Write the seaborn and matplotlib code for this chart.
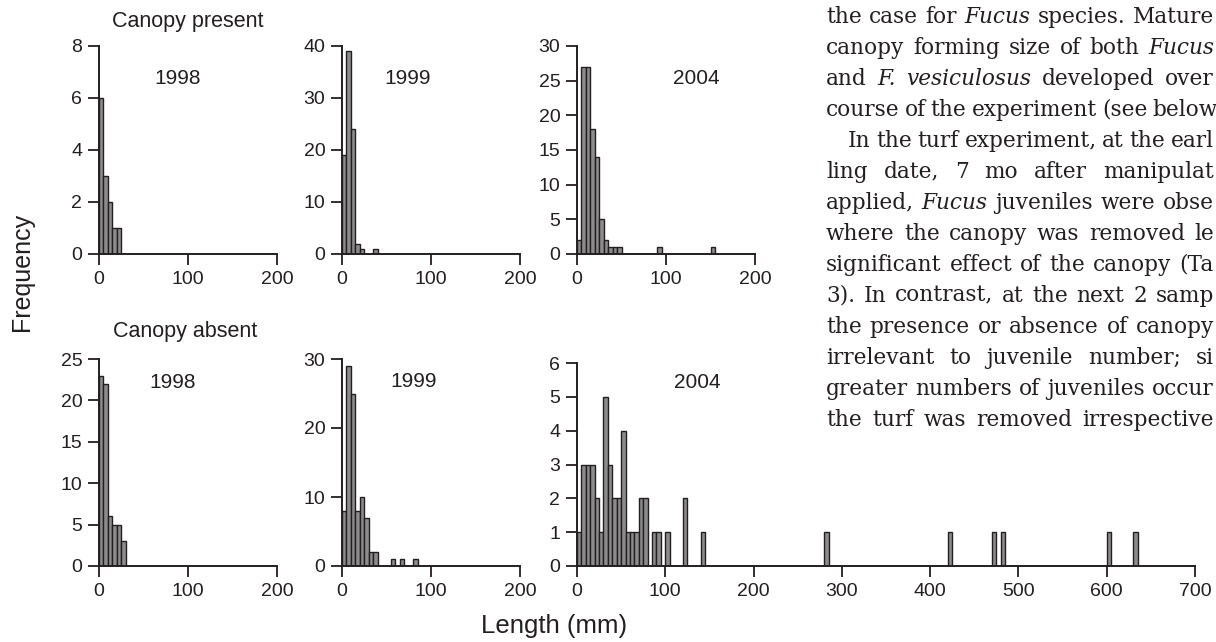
import matplotlib
matplotlib.use('Agg')
import matplotlib.pyplot as plt
import numpy as np
import pandas as pd
import seaborn as sns

# juvenile length frequencies, 5 mm size classes (lower edge of class, count)
bin_width = 5

present_1998_bins = [0, 5, 10, 15, 20]
present_1998_counts = [6, 3, 2, 1, 1]
present_1999_bins = [0, 5, 10, 15, 20, 35]
present_1999_counts = [19, 39, 24, 2, 1, 1]
present_2004_bins = [0, 5, 10, 15, 20, 25, 30, 35, 40, 45, 90, 150]
present_2004_counts = [2, 27, 27, 18, 14, 5, 2, 1, 1, 1, 1, 1]

absent_1998_bins = [0, 5, 10, 15, 20, 25]
absent_1998_counts = [23, 22, 6, 5, 5, 3]
absent_1999_bins = [0, 5, 10, 15, 20, 25, 30, 35, 55, 65, 80]
absent_1999_counts = [8, 29, 25, 8, 10, 7, 2, 2, 1, 1, 1]
absent_2004_bins = [0, 5, 10, 15, 20, 25, 30, 35, 40, 45, 50, 55, 60, 65, 70,
                    75, 85, 90, 100, 120, 140, 280, 420, 470, 480, 600, 630]
absent_2004_counts = [1, 3, 3, 3, 2, 1, 5, 3, 2, 2, 4, 1, 1, 1, 2,
                      2, 1, 1, 1, 2, 1, 1, 1, 1, 1, 1, 1]

years = ['1998', '1999', '2004']
row_titles = ['Canopy present', 'Canopy absent']
x_max = [200, 200, 200, 200, 200, 700]
y_max = [8, 40, 30, 25, 30, 6]
y_step = [2, 10, 5, 5, 10, 1]

# running text of the page beside the figure (as far as it is visible)
body_lines = [
    "the case for _Fucus_ species. Mature",
    "canopy forming size of both _Fucus_",
    "and _F._ _vesiculosus_ developed over",
    "course of the experiment (see below",
    "In the turf experiment, at the earl",
    "ling date, 7 mo after manipulat",
    "applied, _Fucus_ juveniles were obse",
    "where the canopy was removed le",
    "significant effect of the canopy (Ta",
    "3). In contrast, at the next 2 samp",
    "the presence or absence of canopy",
    "irrelevant to juvenile number; si",
    "greater numbers of juveniles occur",
    "the turf was removed irrespective",
]

panels = [
    (present_1998_bins, present_1998_counts),
    (present_1999_bins, present_1999_counts),
    (present_2004_bins, present_2004_counts),
    (absent_1998_bins, absent_1998_counts),
    (absent_1999_bins, absent_1999_counts),
    (absent_2004_bins, absent_2004_counts),
]

sns.set_style('ticks')
plt.rcParams['font.family'] = ['Liberation Sans', 'DejaVu Sans']
ink = '#231f20'

W, H = 1216, 642
fig = plt.figure(figsize=(W / 100, H / 100), dpi=100)


def px(x, y):
    return x / W, 1 - y / H


# axes boxes in pixels: left, top, right, bottom
boxes = [
    (99, 46, 277, 254), (342, 46, 520, 254), (577, 46, 755, 254),
    (99, 359, 277, 566), (342, 359, 520, 566), (577, 363, 1195, 566),
]

for i, ((bins, counts), box) in enumerate(zip(panels, boxes)):
    l, t, r, b = box
    ax = fig.add_axes([l / W, 1 - b / H, (r - l) / W, (b - t) / H])
    df = pd.DataFrame({'length': np.array(bins) + bin_width / 2,
                       'count': counts})
    sns.histplot(data=df, x='length', weights='count', binwidth=bin_width,
                 binrange=(0, max(bins) + bin_width), ax=ax,
                 color='#8c8c8c', edgecolor=ink, linewidth=1.0, alpha=1)
    ax.set_xlim(0, x_max[i])
    ax.set_ylim(0, y_max[i])
    ax.set_xticks(range(0, x_max[i] + 1, 100))
    ax.set_yticks(range(0, y_max[i] + 1, y_step[i]))
    ax.set_xlabel('')
    ax.set_ylabel('')
    sns.despine(ax=ax)
    for s in ['left', 'bottom']:
        ax.spines[s].set_linewidth(1.4)
        ax.spines[s].set_color(ink)
    ax.tick_params(direction='out', length=8, width=1.3, color=ink,
                   labelcolor=ink, labelsize=14, pad=4)
    ax.patch.set_alpha(0)

# year labels inside each panel
year_pos = [(178, 79), (408, 79), (696, 79), (173, 383), (414, 382), (697, 383)]
for i, (x, y) in enumerate(year_pos):
    fig.text(*px(x, y), years[i % 3], ha='center', va='center',
             fontsize=15, color=ink)

fig.text(*px(188, 22), row_titles[0], ha='center', va='center',
         fontsize=15.5, color=ink)
fig.text(*px(185, 331), row_titles[1], ha='center', va='center',
         fontsize=15.5, color=ink)
fig.text(*px(22, 272), 'Frequency', rotation=90, ha='center', va='center',
         fontsize=18, color=ink)
fig.text(*px(554, 626), 'Length (mm)', ha='center', va='center',
         fontsize=18.5, color=ink)

# justified body text
renderer = fig.canvas.get_renderer()
for k, line in enumerate(body_lines):
    words = line.split(' ')
    x_left = 848 if k == 4 else 826
    x_right = 1214
    y = 22.7 + 31.0 * k
    items = []
    for w in words:
        italic = w.startswith('_')
        t = fig.text(0, 0, w.strip('_'), fontsize=15.6, color=ink,
                     family=['DejaVu Serif'],
                     style='italic' if italic else 'normal', va='baseline')
        items.append((t, t.get_window_extent(renderer).width))
    gap = (x_right - x_left - sum(wd for _, wd in items)) / max(len(items) - 1, 1)
    gap = max(gap, 5)
    x = x_left
    for t, wd in items:
        t.set_position(px(x, y))
        x += wd + gap

fig.savefig('out.png', dpi=100)
